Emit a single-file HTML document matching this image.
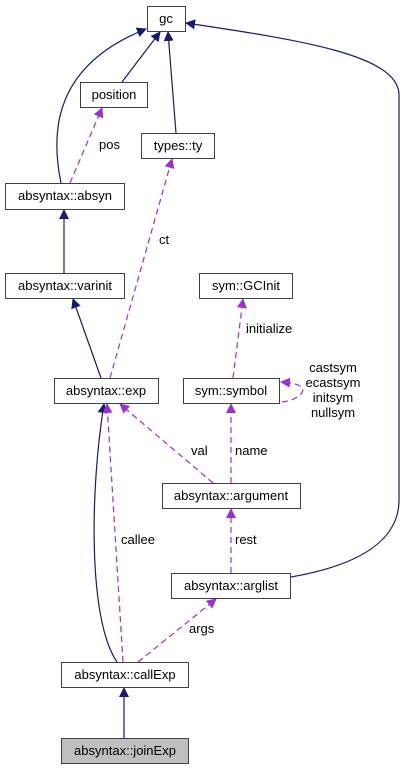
<!DOCTYPE html>
<html><head><meta charset="utf-8"><style>
html,body{margin:0;padding:0;background:#fff;}
svg{display:block;}
text{font-family:"Liberation Sans",Arial,sans-serif;font-size:13px;fill:#000;}
</style></head><body>
<svg width="405" height="769" viewBox="0 0 405 769" xmlns="http://www.w3.org/2000/svg">
<defs>
<marker id="n" markerWidth="10" markerHeight="10" refX="9" refY="5" orient="auto" markerUnits="userSpaceOnUse"><path d="M0,0 L10,5 L0,10 z" fill="#191970"/></marker>
<marker id="p" markerWidth="10" markerHeight="10" refX="9" refY="5" orient="auto" markerUnits="userSpaceOnUse"><path d="M0,0 L10,5 L0,10 z" fill="#9a32cd"/></marker>
</defs>
<g fill="none" stroke="#191970" stroke-width="1.2">
<path d="M61,183 C50,130 55,65 146,29" marker-end="url(#n)"/>
<path d="M122,82 L160,32" marker-end="url(#n)"/>
<path d="M176,133 L168,32" marker-end="url(#n)"/>
<path d="M291,577 C360,565 399,540 399,500 L399,95 C399,55 300,40 186,23" marker-end="url(#n)"/>
<path d="M64,273 L64,210" marker-end="url(#n)"/>
<path d="M101,378 L73,299" marker-end="url(#n)"/>
<path d="M117,662 C88,620 90,490 104,404" marker-end="url(#n)"/>
<path d="M124,738 L124,688" marker-end="url(#n)"/>
</g>
<g fill="none" stroke="#9a32cd" stroke-width="1.2" stroke-dasharray="6,4">
<path d="M70,183 L102,108" marker-end="url(#p)"/>
<path d="M110,378 L172,159" marker-end="url(#p)"/>
<path d="M233,378 L243,299" marker-end="url(#p)"/>
<path d="M231,483 L231,404" marker-end="url(#p)"/>
<path d="M213,483 L120,404" marker-end="url(#p)"/>
<path d="M231,573 L231,509" marker-end="url(#p)"/>
<path d="M123,662 L107,404" marker-end="url(#p)"/>
<path d="M138,662 L216,599" marker-end="url(#p)"/>
<path d="M282,402 C300,400 305,390 302,388 C300,385 295,383 281,382" marker-end="url(#p)"/>
</g>
<g fill="#fff" stroke="#404040" stroke-width="1">
<rect x="147.5" y="6.5" width="38" height="25"/>
<rect x="80.5" y="82.5" width="67" height="25"/>
<rect x="141.5" y="133.5" width="73" height="25"/>
<rect x="5.5" y="183.5" width="119" height="26"/>
<rect x="5.5" y="273.5" width="119" height="25"/>
<rect x="199.5" y="273.5" width="93" height="25"/>
<rect x="54.5" y="378.5" width="104" height="25"/>
<rect x="183.5" y="378.5" width="96" height="25"/>
<rect x="162.5" y="483.5" width="138" height="25"/>
<rect x="171.5" y="573.5" width="119" height="25"/>
<rect x="61.5" y="662.5" width="127" height="25"/>
<rect x="61.5" y="738.5" width="127" height="25" fill="#bfbfbf"/>
</g>
<g text-anchor="middle">
<text x="166" y="23">gc</text>
<text x="114" y="99">position</text>
<text x="178" y="150">types::ty</text>
<text x="65" y="200">absyntax::absyn</text>
<text x="65" y="290">absyntax::varinit</text>
<text x="246" y="290">sym::GCInit</text>
<text x="106" y="395">absyntax::exp</text>
<text x="231" y="395">sym::symbol</text>
<text x="231" y="500">absyntax::argument</text>
<text x="231" y="590">absyntax::arglist</text>
<text x="125" y="679">absyntax::callExp</text>
<text x="125" y="755">absyntax::joinExp</text>
<text x="333" y="372">castsym</text>
<text x="333" y="387">ecastsym</text>
<text x="333" y="402">initsym</text>
<text x="333" y="417">nullsym</text>
</g>
<text x="99" y="149">pos</text>
<text x="159" y="244">ct</text>
<text x="246" y="333">initialize</text>
<text x="191" y="455">val</text>
<text x="235" y="455">name</text>
<text x="121" y="544">callee</text>
<text x="235" y="544">rest</text>
<text x="189" y="633">args</text>
</svg>
</body></html>
